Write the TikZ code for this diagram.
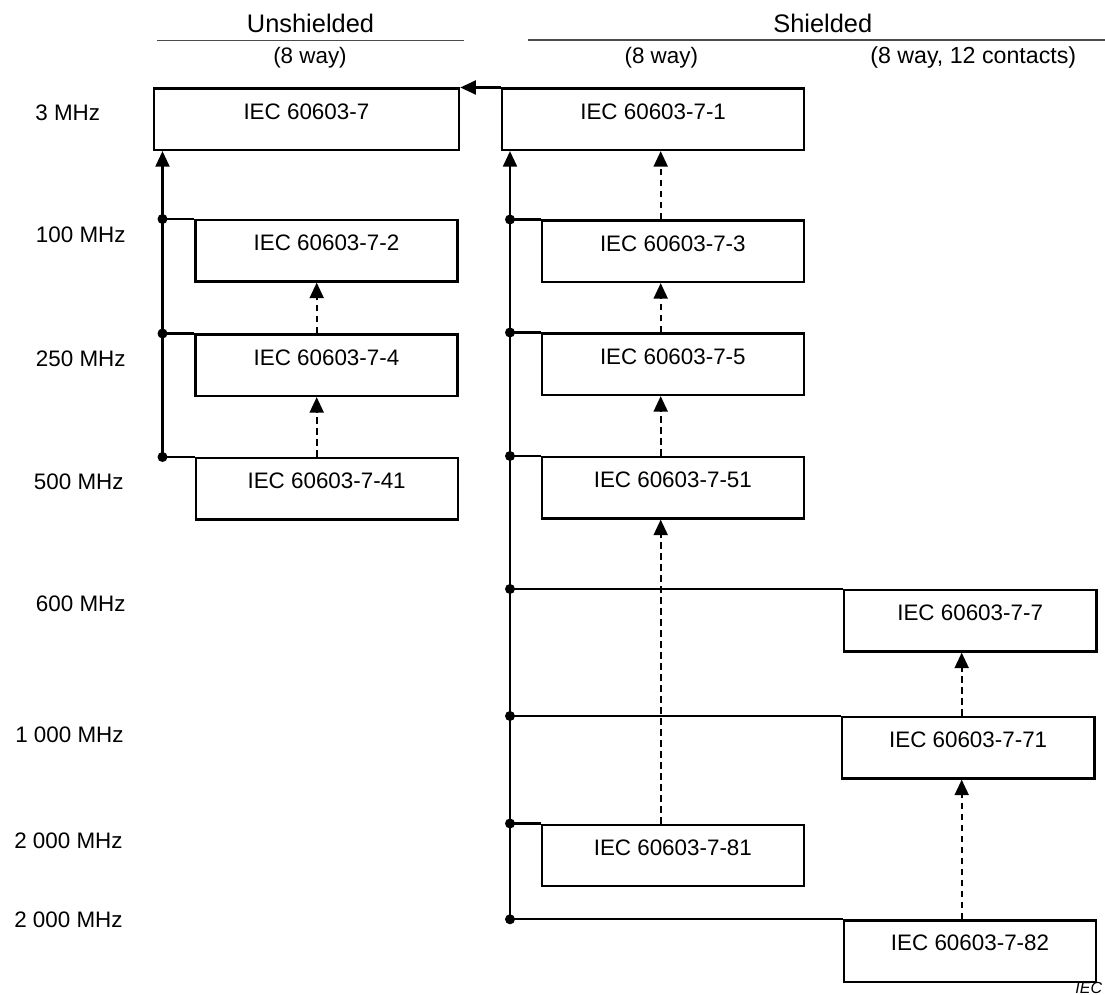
\documentclass[tikz,border=0pt]{standalone}
\usepackage{fontspec}
\setmainfont{Liberation Sans}
\setsansfont{Liberation Sans}
\usepackage{tikz}
\definecolor{iecInk}{HTML}{000000}
\definecolor{iecRule}{HTML}{4A4A4A}
\usetikzlibrary{arrows.meta}

\begin{document}
\begin{tikzpicture}[x=0.5pt,y=-0.5pt, every node/.style={font=\fontsize{11.2}{13}\selectfont, text=iecInk},
  stdbox/.style={draw=iecInk, line width=1.15pt, anchor=north west, inner xsep=0pt, inner ysep=7.2pt,
    text height=8pt, text depth=8.25pt, minimum width=#1}, stdbox/.default=131pt,
  headfont/.style={font=\fontsize{12.7}{15}\selectfont, anchor=base},
  solidarrow/.style={draw=iecInk, line width=1.1pt, -{Triangle[length=7.8pt,width=7pt]}},
  dashedarrow/.style={solidarrow, dash pattern=on 3.3pt off 2.2pt}]
  \useasboundingbox (0,0) rectangle (1105,995);
  \node[headfont] (unsh) at (310.5,32.5) {Unshielded};
  \node[headfont] (sh) at (822.8,32.5) {Shielded};
  \draw[iecRule, line width=0.6pt] (157.3,40.5) -- (464,40.5);
  \draw[iecRule, line width=0.6pt] (527.8,40) -- (1105,40);
  \node[anchor=base] (unway) at (310,63.5) {(8 way)};
  \node[anchor=base] (shway) at (661.3,63.5) {(8 way)};
  \node[anchor=base, font=\fontsize{11.6}{13}\selectfont] (shtwelve) at (973.3,63.5) {(8 way, 12 contacts)};
  \node[anchor=west, inner sep=0pt] (f3) at (35,112.5) {3 MHz};
  \foreach \name/\x/\y/\txt in {f100/126/235/100 MHz, f250/126/358.3/250 MHz, f500/124/481.7/500 MHz,
    f600/126/604/600 MHz, f1000/124/735/1 000 MHz, f2000a/123/840.7/2 000 MHz, f2000b/123/920/2 000 MHz} {
    \node[anchor=east, inner sep=0pt] (\name) at (\x,\y) {\txt};
  }
  \foreach \name/\x/\y/\w/\txt in {s7/152.5/87.5/152.75pt/IEC 60603-7, s71/501/87.5/151pt/IEC 60603-7-1,
    s72/194.3/219/131pt/IEC 60603-7-2, s74/194.3/333.5/131pt/IEC 60603-7-4, s741/194.5/457/131pt/IEC 60603-7-41,
    s73/540.7/219.5/131pt/IEC 60603-7-3, s75/540.7/332.5/131pt/IEC 60603-7-5, s751/540.7/456/131pt/IEC 60603-7-51,
    s781/540.7/823.5/131pt/IEC 60603-7-81, s77/842.7/589/126.3pt/IEC 60603-7-7,
    s771/840.7/716/126.3pt/IEC 60603-7-71, s782/842.7/919.3/126.2pt/IEC 60603-7-82} {
    \node[stdbox=\w] (\name) at (\x,\y) {\txt};
  }
  \coordinate (ubus) at (162.5,0);
  \coordinate (sbus) at (510,0);
  \coordinate (ucol) at (316.7,0);
  \coordinate (scol) at (660.7,0);
  \coordinate (xcol) at (961.7,0);
  \draw[solidarrow] (s71.north west) -- (s7.north east);
  \draw[solidarrow] (ubus |- s741.north) -- (ubus |- s7.south);
  \draw[solidarrow] (sbus |- s782.north) -- (sbus |- s71.south);
  \foreach \name in {s72,s74,s741} {
    \draw[line width=1.1pt] (ubus |- \name.north) -- (\name.north west);
    \fill[iecInk] (ubus |- \name.north) circle[radius=2.5pt];
  }
  \foreach \name in {s73,s75,s751,s77,s771,s781,s782} {
    \draw[line width=1.1pt] (sbus |- \name.north) -- (\name.north west);
    \fill[iecInk] (sbus |- \name.north) circle[radius=2.5pt];
  }
  \foreach \from/\to/\col in {s74/s72/ucol, s741/s74/ucol, s73/s71/scol, s75/s73/scol, s751/s75/scol,
    s781/s751/scol, s771/s77/xcol, s782/s771/xcol} {
    \draw[dashedarrow] (\col |- \from.north) -- (\col |- \to.south);
  }
  \node[anchor=base west, inner sep=0pt, font=\fontsize{8}{9}\selectfont\itshape] (tag) at (1075,993) {IEC};
\end{tikzpicture}
\end{document}
